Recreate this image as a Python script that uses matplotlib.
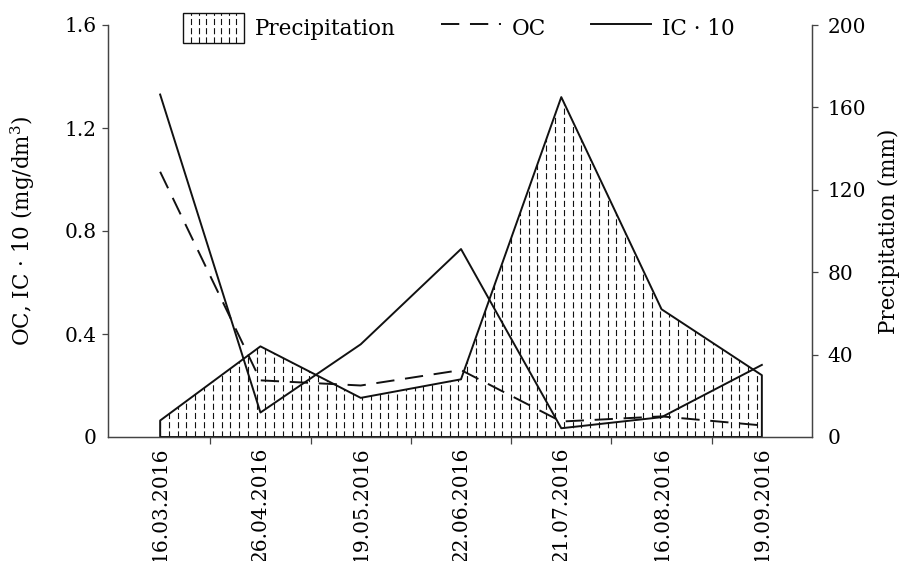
import matplotlib

matplotlib.use("Agg")
import matplotlib.pyplot as plt
import numpy as np
from matplotlib.legend_handler import HandlerBase
from matplotlib.lines import Line2D
from matplotlib.patches import Patch, Rectangle

# data
dates = [
    "16.03.2016",
    "26.04.2016",
    "19.05.2016",
    "22.06.2016",
    "21.07.2016",
    "16.08.2016",
    "19.09.2016",
]
precipitation = [8, 44, 19, 28, 165, 62, 30]
oc = [1.03, 0.22, 0.20, 0.26, 0.06, 0.08, 0.045]
ic10 = [1.33, 0.095, 0.36, 0.73, 0.034, 0.077, 0.28]

left_ticks = [0, 0.4, 0.8, 1.2, 1.6]
right_ticks = [0, 40, 80, 120, 160, 200]

plt.rcParams["font.family"] = ["DejaVu Serif"]
plt.rcParams["mathtext.fontset"] = "dejavuserif"
plt.rcParams["font.size"] = 14.5

TEXT_SIZE = 15.5
INK = "#111111"
SPINE = "#444444"
HATCH_DASH = (0, (5.5, 2.8))
OC_DASH = (0, (9.4, 5.5))


class DashedHatchHandler(HandlerBase):
    # box with vertical dashed lines, like the area hatch
    def create_artists(self, legend, orig_handle, xdescent, ydescent,
                       width, height, fontsize, trans):
        x0, y0 = -xdescent, -ydescent
        arts = [Rectangle((x0, y0), width, height, facecolor="white",
                          edgecolor=INK, lw=1.0, transform=trans)]
        n = 8
        for i in range(1, n):
            xx = x0 + width * i / n
            arts.append(Line2D([xx, xx], [y0, y0 + height], color=INK, lw=0.8,
                               linestyle=HATCH_DASH, transform=trans))
        return arts


fig = plt.figure(figsize=(9.02, 5.61), dpi=100)
ax = fig.add_axes([108 / 902, 1 - 437 / 561, 704 / 902, 412 / 561])
ax2 = ax.twinx()

# precipitation behind the lines
ax2.set_zorder(ax.get_zorder() - 1)
ax.patch.set_visible(False)

x = np.arange(len(dates))

area = ax2.fill_between(x, precipitation, facecolor="none", edgecolor=INK, lw=1.4)
hatch_x = np.arange(0, len(dates) - 1 + 1e-9, 0.0875)
vl = ax2.vlines(hatch_x, 0, 200, colors=INK, lw=0.8, linestyles=[HATCH_DASH])
vl.set_clip_path(area.get_paths()[0], ax2.transData)

ax.plot(x, oc, color=INK, lw=1.4, linestyle=OC_DASH)
ax.plot(x, ic10, color=INK, lw=1.4)

ax.set_xlim(-0.52, 6.5)
ax.set_ylim(0, 1.6)
ax2.set_ylim(0, 200)

ax.set_xticks(x)
ax.set_xticklabels(dates, rotation=90)
ax.set_xticks(np.arange(0.5, len(dates) - 1, 1), minor=True)
ax.tick_params(axis="x", which="major", length=0, pad=7)
ax.tick_params(axis="x", which="minor", length=5, width=0.9, color=SPINE, direction="out")

ax.set_yticks(left_ticks)
ax.set_yticklabels(["0" if t == 0 else f"{t:.1f}" for t in left_ticks])
ax.tick_params(axis="y", length=4.3, width=0.9, color=SPINE, pad=4)
ax.yaxis.get_major_ticks()[0].tick1line.set_visible(False)

ax2.set_yticks(right_ticks)
ax2.tick_params(axis="y", length=4.3, width=0.9, color=SPINE, pad=7)
ax2.yaxis.get_major_ticks()[0].tick2line.set_visible(False)

for a in (ax, ax2):
    a.spines["top"].set_visible(False)
    for s in ("left", "right", "bottom"):
        a.spines[s].set_color(SPINE)
        a.spines[s].set_linewidth(0.9)

ax.set_ylabel("OC, IC · 10 (mg/dm$^3$)", fontsize=TEXT_SIZE)
ax.yaxis.set_label_coords(-0.101, 0.5)
ax2.set_ylabel("Precipitation (mm)", fontsize=TEXT_SIZE)
ax2.yaxis.set_label_coords(1.094, 0.5)

handles = [
    Patch(label="Precipitation"),
    Line2D([], [], color=INK, lw=1.4, linestyle=OC_DASH, label="OC"),
    Line2D([], [], color=INK, lw=1.4, label="IC · 10"),
]
fig.legend(handles=handles, loc="center", bbox_to_anchor=(0.509, 0.950),
           ncol=3, frameon=False, fontsize=TEXT_SIZE, handlelength=2.8,
           handleheight=1.77, handletextpad=0.5, columnspacing=2.1,
           handler_map={Patch: DashedHatchHandler()})

fig.savefig("out.png", dpi=100)
